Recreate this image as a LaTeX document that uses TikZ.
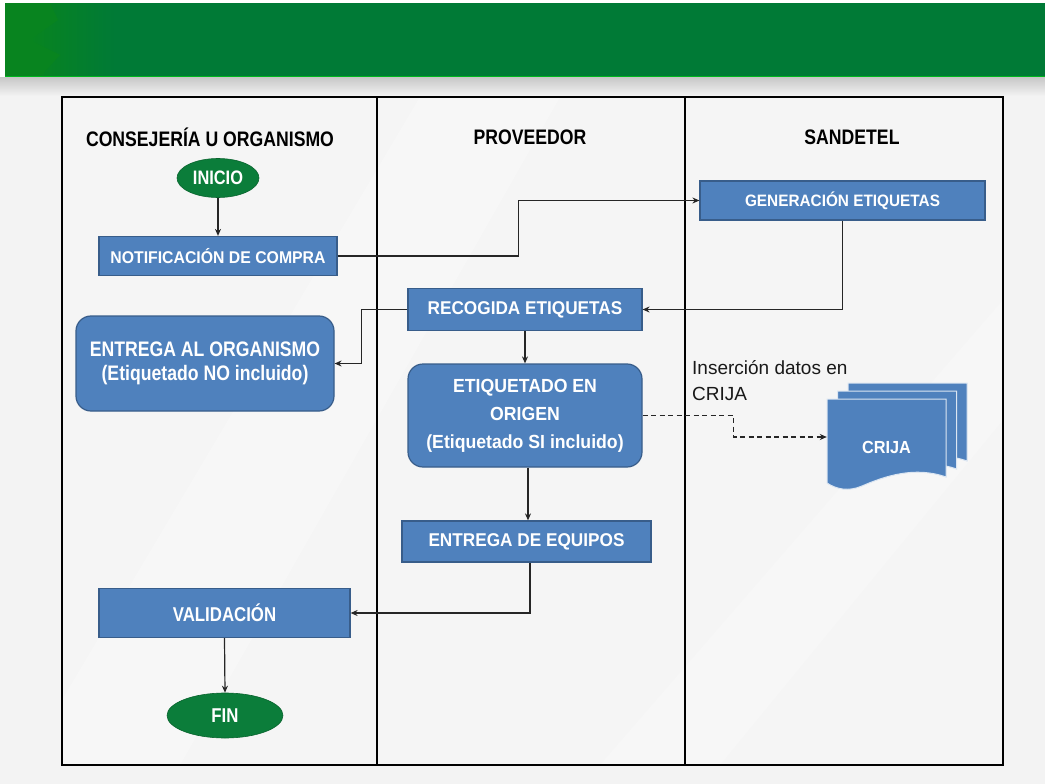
\documentclass[tikz,border=0pt]{standalone}
\usepackage{fontspec}
\setmainfont{Liberation Sans}
\newfontfamily\nbw[FakeStretch=0.93]{Liberation Sans Bold}
\newfontfamily\nbn[FakeStretch=0.84]{Liberation Sans Bold}
\usetikzlibrary{arrows.meta,shapes.geometric,calc}
\definecolor{bannergreen}{RGB}{0,122,54}
\definecolor{bannerlight}{RGB}{10,135,25}
\definecolor{bgcol}{RGB}{243,243,243}
\definecolor{lanecol}{RGB}{247,247,247}
\definecolor{procblue}{RGB}{79,129,189}
\definecolor{procborder}{RGB}{56,93,138}
\definecolor{termgreen}{RGB}{11,125,58}
\tikzset{
  proc/.style={draw=procborder, fill=procblue, line width=1.2pt, text=white,
    font=\nbw\fontsize{17}{27.5}\selectfont, inner sep=0pt, align=center},
  rproc/.style={proc, rounded corners=15pt},
  term/.style={ellipse, draw=termgreen!80!black, line width=0.6pt, fill=termgreen, text=white,
    font=\nbn\fontsize{20}{22}\selectfont, inner sep=0pt},
  lanehead/.style={font=\nbn\fontsize{21}{24}\selectfont, text=black},
  conn/.style={line width=1.2pt, draw=black!85, -{Stealth[length=7pt,width=6pt]}},
  docpart/.style={fill=procblue, draw=white!80!procblue, line width=1pt},
  note/.style={font=\fontsize{19}{26}\selectfont, text=black!90, align=left, inner sep=0pt}
}
\begin{document}
\begin{tikzpicture}[x=1pt,y=-1pt]
\useasboundingbox (0,0) rectangle (1045,784);
% background
\fill[bgcol] (0,0) rectangle (1045,784);
\fill[white,opacity=0.45] (62,700) -- (420,97) -- (560,97) -- (180,765) -- (62,765) -- cycle;
\fill[white,opacity=0.35] (600,765) -- (1003,300) -- (1003,420) -- (720,765) -- cycle;
\shade[top color=black!22, bottom color=bgcol] (0,77) rectangle (1045,96);
% banner
\fill[bannergreen] (5,3) rectangle (1045,77);
\shade[left color=bannerlight, right color=bannergreen] (5,3) rectangle (115,77);
\fill[bannerlight!80!bannergreen] (5,3) -- (50,3) -- (58,20) -- (30,40) -- (60,55) -- (40,77) -- (5,77) -- cycle;
\draw[line width=1.5pt, green!45!bannergreen] (5,76.5) -- (1045,76.5);
\fill[white] (0,0) rectangle (1045,3);
\fill[white] (0,0) rectangle (5,77);
% lanes
\fill[lanecol,opacity=0.6] (62,97) rectangle (1003,765);
\draw[line width=2.5pt] (62,97) rectangle (1003,765);
\draw[line width=2.5pt] (377,97) -- (377,765);
\draw[line width=2.5pt] (685,97) -- (685,765);
\node[lanehead] (h1) at (210,137) {CONSEJERÍA U ORGANISMO};
\node[lanehead] (h2) at (530,137) {PROVEEDOR};
\node[lanehead] (h3) at (852,137) {SANDETEL};
% nodes
\node[term, font=\nbn\fontsize{19.5}{22}\selectfont, minimum width=82pt, minimum height=39pt] (inicio) at (218,178) {INICIO};
\node[proc, minimum width=238pt, minimum height=39pt] (notif) at (218,256) {NOTIFICACIÓN DE COMPRA};
\node[proc, font=\nbw\fontsize{16.5}{20}\selectfont, minimum width=285pt, minimum height=39pt] (gen) at (842.5,200.5) {GENERACIÓN ETIQUETAS};
\node[proc, font=\nbw\fontsize{18.5}{22}\selectfont, minimum width=234pt, minimum height=42pt] (recog) at (525,309.5) {RECOGIDA ETIQUETAS};
\node[rproc, font=\nbn\fontsize{21}{23.5}\selectfont, minimum width=258pt, minimum height=95pt] (entorg) at (205,363.5) {ENTREGA AL ORGANISMO\\(Etiquetado NO incluido)};
\node[rproc, font=\nbw\fontsize{19}{28}\selectfont, minimum width=234pt, minimum height=103pt] (etiq) at (525,415.5) {ETIQUETADO EN\\ORIGEN\\(Etiquetado SI incluido)};
\node[proc, font=\nbw\fontsize{18.5}{22}\selectfont, minimum width=249pt, minimum height=41pt] (equip) at (526.5,541.5) {ENTREGA DE EQUIPOS};
\node[proc, font=\nbn\fontsize{20}{22}\selectfont, minimum width=251pt, minimum height=49pt] (valid) at (224.5,613) {VALIDACIÓN};
\node[term, minimum width=116pt, minimum height=45pt] (fin) at (225,715.5) {FIN};
% CRIJA multi-document
\foreach \dx/\dy in {21/-16, 10.5/-8, 0/0}{
  \begin{scope}[shift={(\dx,\dy)}]
  \path[docpart] (827,399) -- (946,399) -- (946,477)
    .. controls (915,466) and (885,476) .. (862,486)
    .. controls (848,492) and (836,489) .. (827,483) -- cycle;
  \end{scope}
}
\node[font=\nbw\fontsize{17.5}{20}\selectfont, text=white, minimum width=119pt, minimum height=96pt, inner sep=0pt] (crija) at (886.5,447) {CRIJA};
\node[note, anchor=north west] (ins) at (692,360) {Inserción datos en\\CRIJA};
% connectors
\draw[conn] (inicio.south) -- (notif.north);
\draw[conn] (notif.east) -- ++(181,0) |- (gen.west);
\draw[conn] (gen.south) |- (recog.east);
\draw[conn] (recog.west) -- ++(-46,0) |- (entorg.east);
\draw[conn] (recog.south) -- (etiq.north);
\draw[conn] ([xshift=3pt]etiq.south) -- ([xshift=1.5pt]equip.north);
\draw[conn] ([xshift=3.5pt]equip.south) |- (valid.east);
\draw[conn] (valid.south) -- (fin.north);
\draw[conn, dashed, dash pattern=on 5pt off 3.5pt] (etiq.east) -- ++(91,0) |- ([yshift=10pt]crija.west);
\end{tikzpicture}
\end{document}
